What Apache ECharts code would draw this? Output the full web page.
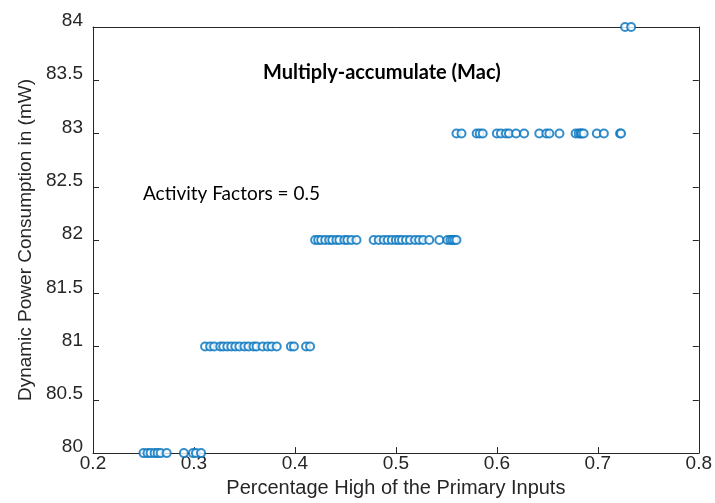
<!DOCTYPE html>
<html>
<head>
<meta charset="utf-8">
<script src="https://cdn.jsdelivr.net/npm/echarts@6/dist/echarts.min.js"></script>
<style>html,body{margin:0;padding:0;background:#fff}#c{width:715px;height:503px}</style>
</head>
<body>
<div id="c"></div>
<script>
// Data (x = percentage high of primary inputs, grouped by power level in mW)
const levels = [80, 81, 82, 83, 84];
const x80 = [0.250, 0.254, 0.257, 0.261, 0.264, 0.267, 0.273, 0.290, 0.299, 0.302, 0.307];
const x81 = [0.311, 0.316, 0.320, 0.326, 0.329, 0.333, 0.337, 0.341, 0.345, 0.350, 0.354, 0.359, 0.362, 0.368, 0.373, 0.377, 0.382, 0.396, 0.399, 0.411, 0.415];
const x82 = [0.420, 0.423, 0.426, 0.430, 0.434, 0.437, 0.441, 0.444, 0.449, 0.452, 0.456, 0.461, 0.478, 0.483, 0.488, 0.492, 0.496, 0.500, 0.503, 0.506, 0.510, 0.514, 0.519, 0.523, 0.527, 0.533, 0.543, 0.551, 0.554, 0.556, 0.558, 0.560];
const x83 = [0.560, 0.565, 0.580, 0.583, 0.586, 0.600, 0.604, 0.609, 0.612, 0.619, 0.627, 0.642, 0.649, 0.652, 0.662, 0.678, 0.681, 0.683, 0.684, 0.686, 0.699, 0.706, 0.722, 0.723];
const x84 = [0.727, 0.733];
const groups = [x80, x81, x82, x83, x84];
const xTicks = [0.2, 0.3, 0.4, 0.5, 0.6, 0.7, 0.8];
const yTicks = [80, 80.5, 81, 81.5, 82, 82.5, 83, 83.5, 84];
const titleText = 'Multiply-accumulate (Mac)';
const noteText = 'Activity Factors = 0.5';
const xName = 'Percentage High of the Primary Inputs';
const yName = 'Dynamic Power Consumption in (mW)';

const points = [];
groups.forEach((g, i) => g.forEach(x => points.push([x, levels[i]])));

const axisColor = '#262626';
const font = 'Liberation Sans, Arial, sans-serif';
const chart = echarts.init(document.getElementById('c'), null, {renderer: 'canvas'});
const lineStyle = {color: axisColor, width: 1};
chart.setOption({
  animation: false,
  backgroundColor: '#fff',
  grid: {left: 93, right: 15, top: 27, bottom: 49, containLabel: false},
  xAxis: [{
    type: 'value', min: xTicks[0], max: xTicks[xTicks.length - 1], interval: 0.1,
    position: 'bottom',
    axisLine: {show: true, lineStyle},
    axisTick: {show: true, inside: true, length: 6, lineStyle},
    splitLine: {show: false},
    axisLabel: {color: axisColor, fontSize: 19, fontFamily: font, margin: 1,
      formatter: v => (Math.round(v * 10) / 10).toString()},
    name: xName, nameLocation: 'middle', nameGap: 24,
    nameTextStyle: {color: axisColor, fontSize: 20, fontFamily: font}
  }, {
    type: 'value', min: xTicks[0], max: xTicks[xTicks.length - 1], interval: 0.1,
    position: 'top',
    axisLine: {show: true, lineStyle},
    axisTick: {show: false},
    axisLabel: {show: false}, splitLine: {show: false}
  }],
  yAxis: [{
    type: 'value', min: yTicks[0], max: yTicks[yTicks.length - 1], interval: 0.5,
    position: 'left',
    axisLine: {show: true, lineStyle},
    axisTick: {show: true, inside: true, length: 6, lineStyle},
    splitLine: {show: false},
    axisLabel: {color: axisColor, fontSize: 19, fontFamily: font, margin: 10,
      verticalAlign: 'bottom', lineHeight: 12},
    name: yName, nameLocation: 'middle', nameGap: 58,
    nameTextStyle: {color: axisColor, fontSize: 19, fontFamily: font}
  }, {
    type: 'value', min: yTicks[0], max: yTicks[yTicks.length - 1], interval: 0.5,
    position: 'right',
    axisLine: {show: true, lineStyle},
    axisTick: {show: true, inside: true, length: 6, lineStyle},
    axisLabel: {show: false}, splitLine: {show: false}
  }],
  graphic: [
    {type: 'text', left: 263, top: 63, style: {text: titleText, fontSize: 20, fontWeight: 'bold',
      fontFamily: 'Lato, Open Sans, sans-serif', fill: '#000'}},
    {type: 'text', left: 143, top: 184, style: {text: noteText, fontSize: 19,
      fontFamily: 'Lato, Open Sans, sans-serif', fill: '#000'}}
  ],
  series: [{
    type: 'scatter',
    xAxisIndex: 0, yAxisIndex: 0,
    symbol: 'emptyCircle', symbolSize: 8,
    itemStyle: {color: '#0072BD', borderColor: '#0072BD', borderWidth: 0.9},
    data: points
  }]
});
</script>
</body>
</html>
